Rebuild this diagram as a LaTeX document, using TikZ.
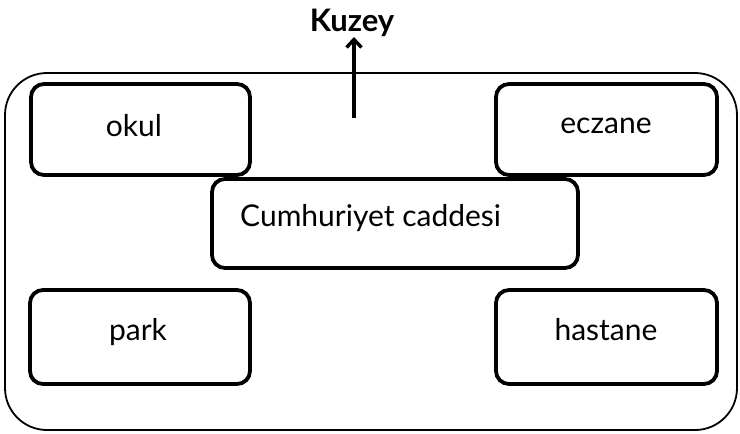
\documentclass[tikz,border=0pt]{standalone}
\usepackage{fontspec}
\setmainfont{Lato}
\usetikzlibrary{arrows.meta}
\begin{document}
\begin{tikzpicture}[x=1pt,y=-1pt,
  place/.style={draw=black,line width=3.8pt,rounded corners=13pt,fill=white},
  lbl/.style={font=\fontsize{30}{34}\selectfont,inner sep=0pt},
  outer/.style={draw=black,line width=1.8pt,rounded corners=42pt}]
\useasboundingbox (0,0) rectangle (740,434);
\draw[outer] (5,73) rectangle (737,430);
\draw[place] (31,84) rectangle (250,175);
\draw[place] (496,84) rectangle (717,175);
\draw[place] (212,179) rectangle (578,268);
\draw[place] (30,290) rectangle (250,384);
\draw[place] (496,290) rectangle (717,384);
\node[lbl] (okul) at (134,126) {okul};
\node[lbl] (eczane) at (606,126) {eczane};
\node[lbl,anchor=west] (cadde) at (240,218) {Cumhuriyet caddesi};
\node[lbl] (park) at (138,332) {park};
\node[lbl] (hastane) at (606,330) {hastane};
\node[font=\fontsize{31}{34}\selectfont\bfseries,inner sep=0pt] (kuzey) at (352,23) {Kuzey};
\coordinate (tail) at (354,118);
\draw[line width=3.4pt,-{Straight Barb[length=8pt,width=15pt]}] (tail) -- (kuzey.south -| tail);
\end{tikzpicture}
\end{document}
